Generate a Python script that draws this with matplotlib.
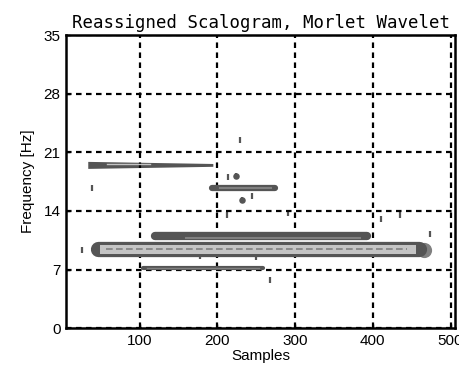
import numpy as np
import matplotlib.pyplot as plt

# ridges of the reassigned scalogram (samples, Hz)
ridge_start = [33, 193, 119, 46, 104]
ridge_end = [194, 274, 393, 474, 258]
ridge_freq = [19.5, 16.7, 11.0, 9.4, 7.2]

# small scattered energy spots (samples, Hz)
spot_x = [38, 25, 229, 224, 232, 245, 212, 291, 410, 435, 474, 268, 249, 178, 213]
spot_y = [16.8, 9.3, 22.5, 18.2, 15.3, 15.8, 13.5, 13.7, 13.0, 13.5, 11.3, 5.7, 8.5, 8.6, 18.0]

xticks = [100, 200, 300, 400, 500]
yticks = [0, 7, 14, 21, 28, 35]

fig = plt.figure(figsize=(4.6, 3.82), dpi=100)
ax = fig.add_axes([0.1435, 0.141, 0.846, 0.767])

dark = "#555555"
mid = "#808080"
light = "#c4c4c4"

# ridge 0: tapered line at ~19.5 Hz
xs = np.linspace(ridge_start[0], ridge_end[0], 50)
half = np.linspace(0.42, 0.17, 50)
ax.fill_between(xs, ridge_freq[0] - half, ridge_freq[0] + half, color=dark, lw=0)
ax.plot([ridge_start[0] + 25, ridge_start[0] + 80], [ridge_freq[0] + 0.12] * 2, color=light, lw=1)

# ridge 1: short line at ~16.7 Hz
ax.plot([ridge_start[1], ridge_end[1]], [ridge_freq[1]] * 2, color=dark, lw=4.5, solid_capstyle="round")
ax.plot([ridge_start[1] + 10, ridge_end[1] - 5], [ridge_freq[1]] * 2, color=mid, lw=1.5)

# ridge 2: upper long band at ~11 Hz
ax.plot([ridge_start[2], ridge_end[2]], [ridge_freq[2]] * 2, color=dark, lw=6, solid_capstyle="round")
ax.plot([ridge_start[2] + 40, ridge_end[2] - 10], [ridge_freq[2] - 0.25] * 2, color=mid, lw=1.5)

# ridge 3: thick hollow band at ~9.4 Hz
ax.plot([ridge_start[3], ridge_end[3] - 15], [ridge_freq[3]] * 2, color=dark, lw=11, solid_capstyle="round")
ax.plot([ridge_start[3] + 8, ridge_end[3] - 25], [ridge_freq[3]] * 2, color=light, lw=6.5)
ax.plot([ridge_start[3] + 10, ridge_end[3] - 30], [ridge_freq[3]] * 2, color=mid, lw=1.2, ls=(0, (4, 2)))
ax.scatter([ridge_end[3] - 8], [ridge_freq[3] - 0.1], s=120, color=mid, marker="o", lw=0)

# ridge 4: thin line at ~7.2 Hz
ax.plot([ridge_start[4], ridge_end[4]], [ridge_freq[4]] * 2, color=dark, lw=3, solid_capstyle="round")
ax.plot([ridge_start[4] + 5, ridge_end[4] - 5], [ridge_freq[4]] * 2, color=mid, lw=1)

# scattered spots
ax.scatter(spot_x, spot_y, s=14, color=dark, marker="|", lw=1.6)
ax.scatter(spot_x[3:5], spot_y[3:5], s=22, color=dark, marker="o", lw=0)

ax.set_xlim(5, 506)
ax.set_ylim(0, 35)
ax.set_xticks(xticks)
ax.set_yticks(yticks)
ax.grid(True, color="black", lw=1.6, ls=(0, (2.5, 2)))
ax.tick_params(direction="in", length=3, width=1, labelsize=11, pad=4)
for lab in ax.get_xticklabels() + ax.get_yticklabels():
    lab.set_family("Liberation Sans")
for s in ax.spines.values():
    s.set_linewidth(1.8)

ax.set_xlabel("Samples", family="Liberation Sans", fontsize=11, labelpad=1)
ax.set_ylabel("Frequency [Hz]", family="Liberation Sans", fontsize=11, labelpad=6)
ax.set_title("Reassigned Scalogram, Morlet Wavelet", family="DejaVu Sans Mono",
             fontsize=12.5, pad=5)

fig.savefig("out.png", dpi=100)
